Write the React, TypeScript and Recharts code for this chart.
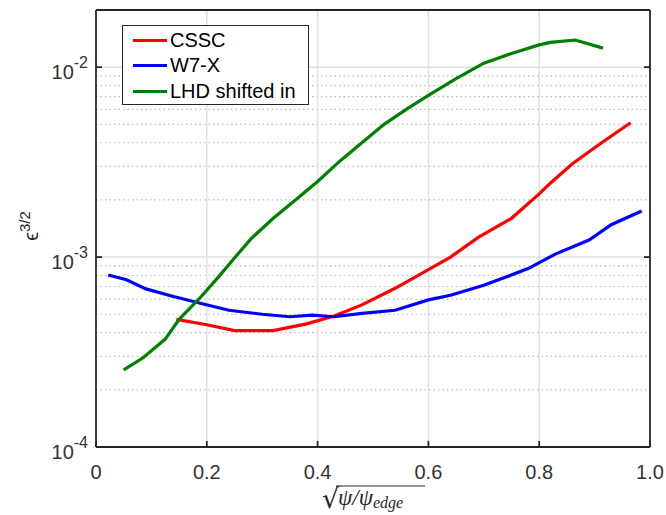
import React from 'react';
import {
  LineChart, Line, XAxis, YAxis, ReferenceLine
} from 'recharts';

// x positions and values
const csscX = [0.145, 0.2, 0.25, 0.32, 0.38, 0.43, 0.48, 0.54, 0.6, 0.64, 0.69, 0.75, 0.8, 0.82, 0.86, 0.91, 0.965];
const csscY = [4.7e-4, 4.4e-4, 4.1e-4, 4.1e-4, 4.45e-4, 4.9e-4, 5.6e-4, 6.85e-4, 8.6e-4, 1.0e-3, 1.27e-3, 1.6e-3, 2.15e-3, 2.45e-3, 3.1e-3, 3.95e-3, 5.1e-3];

const w7xX = [0.022, 0.055, 0.09, 0.14, 0.19, 0.24, 0.3, 0.35, 0.39, 0.43, 0.48, 0.54, 0.6, 0.64, 0.7, 0.78, 0.83, 0.89, 0.93, 0.985];
const w7xY = [8.05e-4, 7.6e-4, 6.8e-4, 6.2e-4, 5.7e-4, 5.25e-4, 5.0e-4, 4.85e-4, 4.95e-4, 4.85e-4, 5.05e-4, 5.25e-4, 5.95e-4, 6.3e-4, 7.1e-4, 8.7e-4, 1.04e-3, 1.23e-3, 1.48e-3, 1.75e-3];

const lhdX = [0.05, 0.085, 0.125, 0.15, 0.19, 0.22, 0.25, 0.28, 0.32, 0.36, 0.4, 0.44, 0.48, 0.52, 0.56, 0.6, 0.65, 0.7, 0.75, 0.8, 0.82, 0.865, 0.915];
const lhdY = [2.55e-4, 2.95e-4, 3.7e-4, 4.7e-4, 6.2e-4, 7.8e-4, 9.9e-4, 1.25e-3, 1.6e-3, 2.0e-3, 2.5e-3, 3.2e-3, 4.0e-3, 5.0e-3, 6.0e-3, 7.1e-3, 8.7e-3, 1.05e-2, 1.18e-2, 1.31e-2, 1.35e-2, 1.39e-2, 1.26e-2];

const seriesNames = ['CSSC', 'W7-X', 'LHD shifted in'];
const seriesColors = ['#ff0000', '#0000ff', '#008000'];

const xTicks = [0, 0.2, 0.4, 0.6, 0.8, 1.0];
const xTickLabels = ['0', '0.2', '0.4', '0.6', '0.8', '1.0'];
const yTicks = [1e-4, 1e-3, 1e-2];
const yTickExps = ['-4', '-3', '-2'];
const xGrid = [0.2, 0.4, 0.6, 0.8];
const yGrid = [1e-3, 1e-2];
const yMinorGrid = [2e-4, 3e-4, 4e-4, 5e-4, 6e-4, 7e-4, 8e-4, 9e-4, 2e-3, 3e-3, 4e-3, 5e-3, 6e-3, 7e-3, 8e-3, 9e-3];

const toPoints = (xs: number[], ys: number[]) => xs.map((x, i) => ({ x, y: ys[i] }));
const cssc = toPoints(csscX, csscY);
const w7x = toPoints(w7xX, w7xY);
const lhd = toPoints(lhdX, lhdY);

const FONT = '"Liberation Sans", Arial, Helvetica, sans-serif';
const AXIS = '#262626';
const TXT = '#333333';

const XTick = ({ x, y, payload }: any) => {
  const i = xTicks.indexOf(payload.value);
  return (
    <text x={x} y={y + 32} textAnchor="middle" fontSize={20} fontFamily={FONT} fill={TXT} stroke="none">
      {xTickLabels[i] ?? String(payload.value)}
    </text>
  );
};

const YTick = ({ x, y, payload }: any) => {
  const i = yTicks.findIndex(t => Math.abs(t - payload.value) < t * 1e-6);
  return (
    <text x={x} y={y + 12} textAnchor="end" fontSize={20} fontFamily={FONT} fill={TXT} stroke="none">
      <tspan>10</tspan>
      <tspan fontSize={16} dy={-11}>{yTickExps[i]}</tspan>
    </text>
  );
};

const EmptyTick = () => <g />;

const XLabel = ({ viewBox }: any) => {
  const cx = viewBox.x + viewBox.width / 2;
  return (
    <g>
      <text x={cx - 51} y={508} fontSize={27} fontFamily='"DejaVu Serif", serif' fill={AXIS} stroke="none">√</text>
      <line x1={cx - 37} x2={cx + 52} y1={486} y2={486} stroke={AXIS} strokeWidth={1.2} />
      <text x={cx - 35} y={505} fontSize={23} fontFamily='"Liberation Serif", serif' fontStyle="italic" fill={AXIS} stroke="none">
        ψ/ψ<tspan fontSize={16} dy={3}>edge</tspan>
      </text>
    </g>
  );
};

// y-axis title, drawn as an overlay next to the axis
const YTitle = () => (
  <div style={{
    position: 'absolute', left: 31 - 30, top: 226 - 12, width: 60, height: 24,
    lineHeight: '24px', textAlign: 'center', transform: 'rotate(-90deg)',
    fontFamily: FONT, fontSize: 20, color: AXIS, whiteSpace: 'nowrap'
  }}>
    ϵ<span style={{ fontSize: 15, position: 'relative', top: -8 }}>3/2</span>
  </div>
);

const LegendBox = () => (
  <div style={{
    position: 'absolute', left: 122, top: 25,
    border: `1.5px solid ${AXIS}`, background: '#fff', width: 185, height: 78,
    fontFamily: FONT, fontSize: 20, color: '#000', boxSizing: 'content-box'
  }}>
    {seriesNames.map((n, i) => (
      <div key={n} style={{ position: 'absolute', left: 0, top: 2 + i * 25.7, height: 24, display: 'flex', alignItems: 'center', whiteSpace: 'nowrap' }}>
        <span style={{ display: 'inline-block', width: 34, height: 3, background: seriesColors[i], marginLeft: 10, marginRight: 3 }} />
        <span>{n}</span>
      </div>
    ))}
  </div>
);

export default function App() {
  return (
    <div style={{ position: 'absolute', left: 0, top: 0, width: 666, height: 515, background: '#fff' }}>
      <LineChart width={666} height={515} margin={{ top: 9, right: 15, bottom: 38, left: 36 }}>
        {yMinorGrid.map(v => (
          <ReferenceLine key={'m' + v} y={v} stroke="#bdbdbd" strokeWidth={1.2} strokeDasharray="1.5 3" />
        ))}
        {yGrid.map(v => (
          <ReferenceLine key={'g' + v} y={v} stroke="#e0e0e0" strokeWidth={1.5} />
        ))}
        {xGrid.map(v => (
          <ReferenceLine key={'v' + v} x={v} stroke="#e0e0e0" strokeWidth={1.5} />
        ))}
        <XAxis
          type="number" dataKey="x" domain={[0, 1]} ticks={xTicks} allowDataOverflow
          stroke={AXIS} strokeWidth={1.8} tickSize={-6} tickMargin={6} height={30}
          tick={<XTick />} label={<XLabel />}
        />
        <XAxis
          xAxisId="top" orientation="top" type="number" domain={[0, 1]} ticks={xTicks} allowDataOverflow
          stroke={AXIS} strokeWidth={1.8} tickSize={-6} height={1} tick={<EmptyTick />}
        />
        <YAxis
          type="number" scale="log" domain={[1e-4, 0.02]} ticks={yTicks} allowDataOverflow
          stroke={AXIS} strokeWidth={1.8} tickSize={-6} tickMargin={14} width={60}
          tick={<YTick />}
        />
        <YAxis
          yAxisId="right" orientation="right" type="number" scale="log" domain={[1e-4, 0.02]} ticks={yTicks} allowDataOverflow
          stroke={AXIS} strokeWidth={1.8} tickSize={-6} width={1} tick={<EmptyTick />}
        />
        <Line data={cssc} dataKey="y" name={seriesNames[0]} stroke={seriesColors[0]} strokeWidth={3.2} dot={false} isAnimationActive={false} type="linear" />
        <Line data={w7x} dataKey="y" name={seriesNames[1]} stroke={seriesColors[1]} strokeWidth={3.2} dot={false} isAnimationActive={false} type="linear" />
        <Line data={lhd} dataKey="y" name={seriesNames[2]} stroke={seriesColors[2]} strokeWidth={3.2} dot={false} isAnimationActive={false} type="linear" />
      </LineChart>
      <YTitle />
      <LegendBox />
    </div>
  );
}
